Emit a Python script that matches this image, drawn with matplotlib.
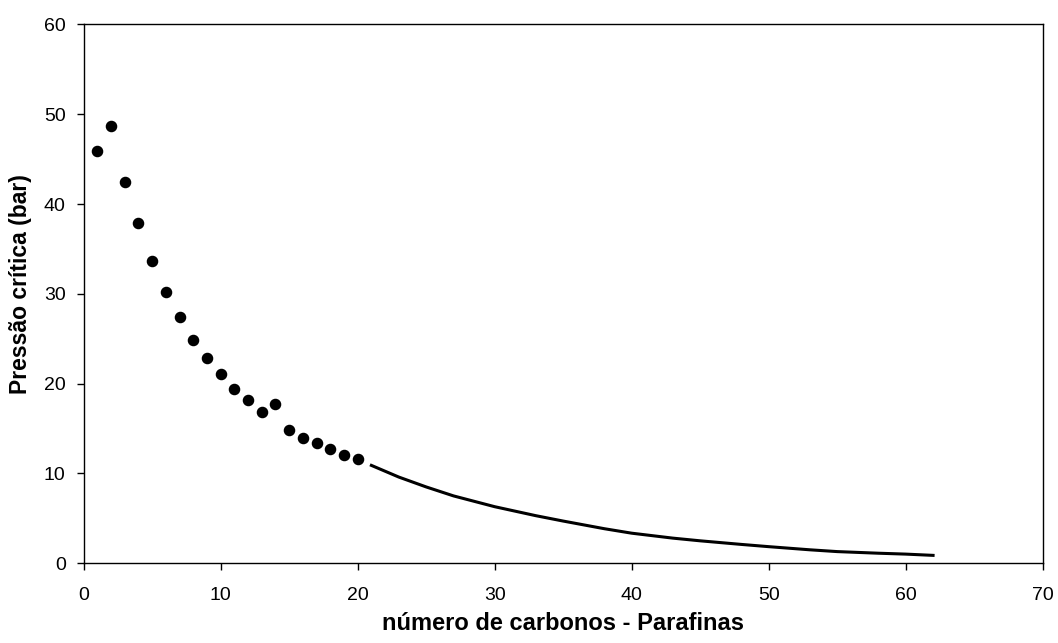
import numpy as np
import matplotlib.pyplot as plt

plt.rcParams['font.family'] = ['Liberation Sans', 'DejaVu Sans']

# dados experimentais - parafinas C1 a C20
n_carb = [1, 2, 3, 4, 5, 6, 7, 8, 9, 10, 11, 12, 13, 14, 15, 16, 17, 18, 19, 20]
pc_exp = [45.9, 48.7, 42.4, 37.9, 33.7, 30.2, 27.4, 24.9, 22.9, 21.1,
          19.4, 18.2, 16.8, 17.7, 14.8, 14.0, 13.4, 12.7, 12.1, 11.6]

# curva extrapolada
n_curva = [21, 23, 25, 27, 30, 33, 35, 38, 40, 43, 45, 48, 50, 53, 55, 58, 60, 62]
pc_curva = [10.9, 9.6, 8.5, 7.5, 6.3, 5.3, 4.7, 3.85, 3.35, 2.8, 2.5, 2.1,
            1.85, 1.5, 1.3, 1.12, 1.02, 0.88]

fig = plt.figure(figsize=(10.58, 6.43), dpi=100)
ax = fig.add_axes([0.0791, 0.124, 0.9064, 0.838])

ax.plot(n_carb, pc_exp, 'o', color='black', markersize=7.3, zorder=3)
ax.plot(n_curva, pc_curva, '-', color='black', linewidth=2.2)

ax.set_xlim(0, 70)
ax.set_ylim(0, 60)
ax.set_xticks(np.arange(0, 71, 10))
ax.set_yticks(np.arange(0, 61, 10))
ax.tick_params(direction='out', length=5, width=1, labelsize=14, top=False, right=False)
ax.tick_params(axis='x', pad=12)
ax.tick_params(axis='y', pad=8)
for s in ax.spines.values():
    s.set_linewidth(1)

ax.set_xlabel('número de carbonos - Parafinas', fontsize=17, fontweight='bold', labelpad=6)
ax.set_ylabel('Pressão crítica (bar)', fontsize=16.5, fontweight='bold')
ax.yaxis.set_label_coords(-0.054, 0.518)

fig.savefig('out.png', dpi=100)
